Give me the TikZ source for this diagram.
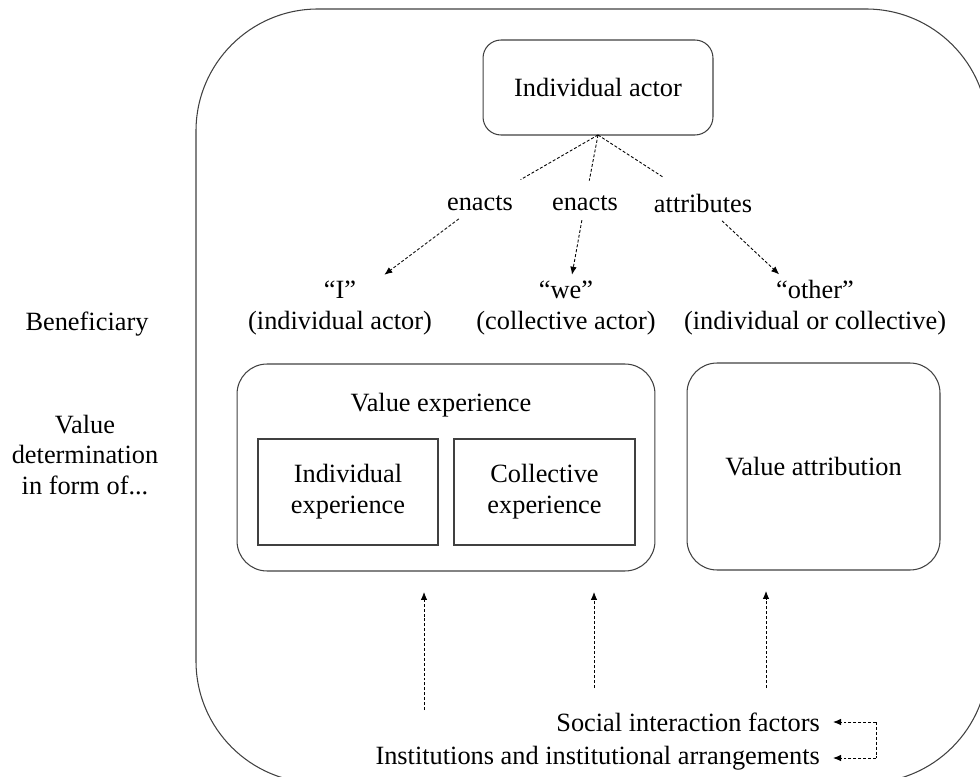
\documentclass[tikz,border=0pt]{standalone}
\usepackage{fontspec}
\setmainfont{Liberation Serif}
\usetikzlibrary{arrows.meta}

\begin{document}
\begin{tikzpicture}[x=0.02cm,y=-0.02cm,
    font=\fontsize{15}{17.6}\selectfont,
    framebox/.style={draw=black!75,line width=0.6pt,align=center,outer sep=0pt,inner sep=0pt},
    roundbox/.style={framebox,rounded corners=0.6cm},
    dline/.style={dash pattern=on 1.7pt off 1.1pt,line width=0.5pt},
    darrow/.style={dline,-{Latex[length=1.6mm,width=1.3mm]}},
    lbl/.style={align=center}]

    \useasboundingbox (0,0) rectangle (980,777);

    % outer frame, partly off the page
    \begin{scope}
        \clip (0,0) rectangle (980,777);
        \draw[black!75,line width=0.6pt,rounded corners=2.44cm] (196,9) rectangle (988,783);
    \end{scope}

    \node[framebox,rounded corners=0.36cm,minimum width=4.6cm,minimum height=1.9cm] (actor) at (598,87.5) {Individual actor};

    \node[lbl] (enI) at (480,203) {enacts};
    \node[lbl] (enWe) at (585,203) {enacts};
    \node[lbl] (attr) at (703,203) {attributes};

    \node[lbl] (benI) at (340,308) {``I''\\(individual actor)};
    \node[lbl] (benWe) at (566,308) {``we''\\(collective actor)};
    \node[lbl] (benO) at (815,308) {``other''\\(individual or collective)};

    \node[lbl] (benef) at (87,324) {Beneficiary};
    \node[lbl] (valdet) at (85,455) {Value\\determination\\in form of...};

    \node[roundbox,minimum width=8.36cm,minimum height=4.14cm] (valexp) at (446,467.5) {};
    \node[lbl] (valexpT) at (441,405) {Value experience};
    \node[framebox,minimum width=3.6cm,minimum height=2.12cm] (indexp) at (348,492) {Individual\\experience};
    \node[framebox,minimum width=3.62cm,minimum height=2.12cm] (colexp) at (544.5,492) {Collective\\experience};
    \node[roundbox,minimum width=5.06cm,minimum height=4.14cm] (valatt) at (813.5,466.5) {Value attribution};

    \node[lbl,anchor=east] (social) at (826,722) {Social interaction factors};
    \node[lbl,anchor=east] (inst) at (826,758) {Institutions and institutional arrangements};

    % actor to labels
    \draw[dline,shorten >=11pt] (actor.south) -- (enI);
    \draw[dline,shorten >=5pt] (actor.south) -- (enWe);
    \draw[dline,shorten >=11pt] (actor.south) -- (attr);

    % labels to beneficiaries
    \draw[darrow,shorten <=2pt] (enI) -- (benI);
    \draw[darrow,shorten <=2pt] (enWe) -- (benWe);
    \draw[darrow,shorten <=2pt] (attr) -- (benO);

    % factors up to value determination
    \coordinate (tailA) at (424,710);
    \coordinate (tailB) at (594,688);
    \coordinate (tailC) at (766,688);
    \draw[darrow,shorten >=0.42cm] (tailA) -- (tailA |- valexp.south);
    \draw[darrow,shorten >=0.42cm] (tailB) -- (tailB |- valexp.south);
    \draw[darrow,shorten >=0.42cm] (tailC) -- (tailC |- valatt.south);

    \coordinate (cornS) at (876,722);
    \coordinate (cornI) at (876,758);
    \draw[dline] (cornS) -- (cornI);
    \draw[darrow,shorten >=0.14cm] (cornS) -- (social.east);
    \draw[darrow,shorten >=0.14cm] (cornI) -- (inst.east);

\end{tikzpicture}
\end{document}
